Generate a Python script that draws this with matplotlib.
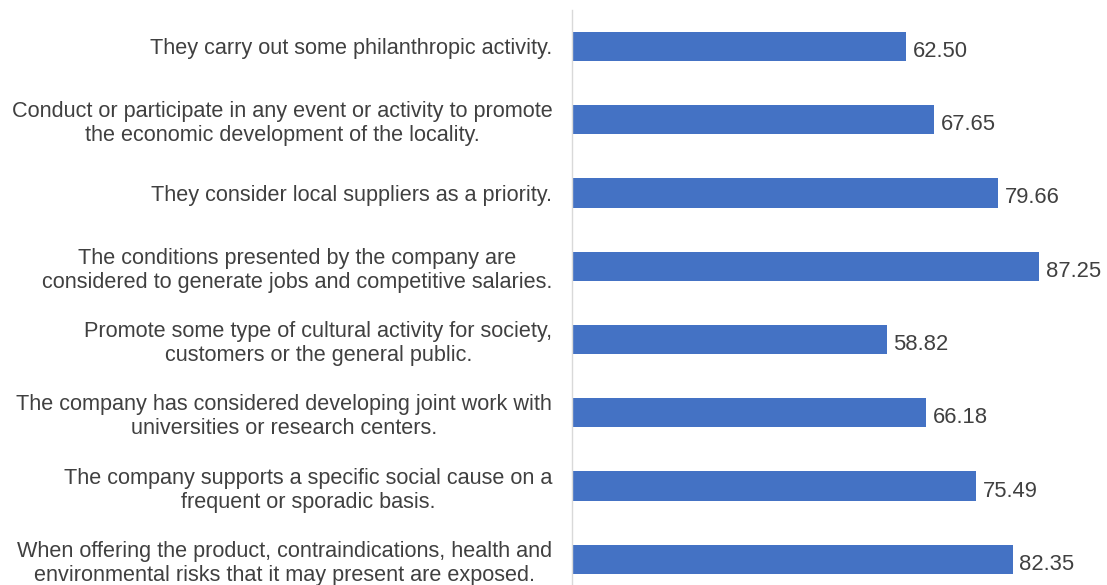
import matplotlib
matplotlib.use("Agg")
import matplotlib.pyplot as plt

categories = [
    "They carry out some philanthropic activity.",
    "Conduct or participate in any event or activity to promote\nthe economic development of the locality.",
    "They consider local suppliers as a priority.",
    "The conditions presented by the company are\nconsidered to generate jobs and competitive salaries.",
    "Promote some type of cultural activity for society,\ncustomers or the general public.",
    "The company has considered developing joint work with\nuniversities or research centers.",
    "The company supports a specific social cause on a\nfrequent or sporadic basis.",
    "When offering the product, contraindications, health and\nenvironmental risks that it may present are exposed.",
]
values = [62.50, 67.65, 79.66, 87.25, 58.82, 66.18, 75.49, 82.35]

plt.rcParams["font.family"] = ["Liberation Sans", "DejaVu Sans"]

W, H, DPI = 1107, 585, 100
fig = plt.figure(figsize=(W / DPI, H / DPI), dpi=DPI)
ax = fig.add_axes([571.7 / W, 0.0, 1 - 571.7 / W, 1 - 9.65 / H])

bar_color = "#4472C4"
text_color = "#404040"

y = list(range(len(categories)))
ax.barh(y, values, height=0.40, color=bar_color)

for yi, v in zip(y, values):
    ax.annotate(f"{v:.2f}", xy=(v, yi), xytext=(5, -1.8), textcoords="offset points",
                ha="left", va="center_baseline", fontsize=15.8, color=text_color)

ax.set_xlim(0, 100)
ax.set_ylim(7.35, -0.5)

ax.set_yticks(y)
ax.set_yticklabels(categories, fontsize=15.6, color=text_color,
                   multialignment="center", linespacing=1.2)
ax.tick_params(axis="y", length=0, pad=14)
ax.set_xticks([])

for side in ("top", "right", "bottom"):
    ax.spines[side].set_visible(False)
ax.spines["left"].set_color("#D9D9D9")
ax.spines["left"].set_linewidth(1.0)

fig.savefig("out.png", dpi=DPI)
